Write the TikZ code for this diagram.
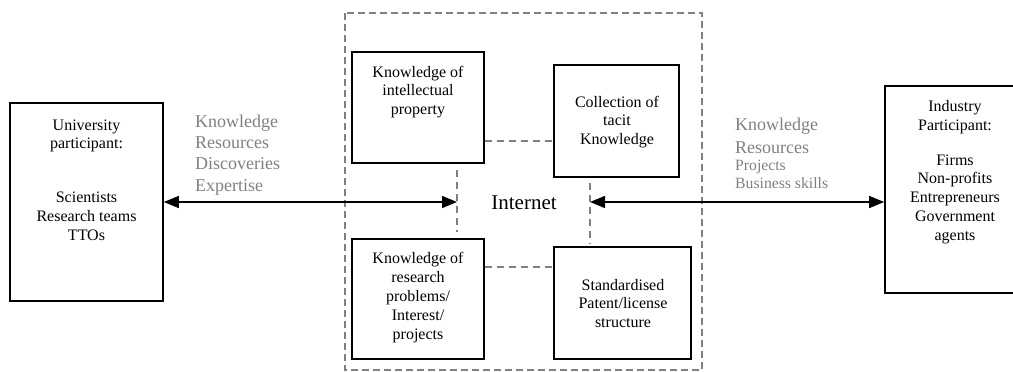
\documentclass[tikz,border=0pt]{standalone}
\usepackage{fontspec}
\setmainfont{Liberation Serif}
\usetikzlibrary{arrows.meta}

\definecolor{linkgray}{RGB}{128,128,128}
\definecolor{textgray}{RGB}{128,128,128}

\begin{document}
\begin{tikzpicture}[x=1pt,y=1pt,yscale=-1,
	pbox/.style={draw,line width=1.6pt,inner sep=0pt,fill=none},
	btext/.style={align=center,inner sep=0pt,font=\fontsize{16}{18.8}\selectfont},
	gtext/.style={align=left,inner sep=0pt,anchor=west,text=textgray},
	link/.style={draw=linkgray,line width=1.3pt,dash pattern={on 7pt off 5pt}},
	twoway/.style={line width=1.4pt,{Triangle[length=15pt,width=12pt]}-{Triangle[length=15pt,width=12pt]}}]
	\useasboundingbox (0,0) rectangle (1013,372);

	%Shape: Dashed Rectangle (internet area)
	\draw [draw=linkgray,line width=1.3pt,dash pattern={on 7pt off 4pt}] (345,13) rectangle (702,370) ;

	%Shape: Rectangle
	\node [pbox,minimum width=153pt,minimum height=198pt] (uni) at (86.5,202) {};
	\node [pbox,minimum width=145pt,minimum height=207pt] (ind) at (957.5,189.5) {};
	\node [pbox,minimum width=132pt,minimum height=111pt] (kip) at (418,107.5) {};
	\node [pbox,minimum width=125pt,minimum height=112pt] (coll) at (616.5,121) {};
	\node [pbox,minimum width=132pt,minimum height=120pt] (res) at (418,299) {};
	\node [pbox,minimum width=137pt,minimum height=112pt] (std) at (622.5,303) {};

	\coordinate (hA) at (0,141);
	\coordinate (hB) at (0,267);
	\coordinate (vL) at (457,0);
	\coordinate (vR) at (590,0);

	%Straight Lines
	\draw [link] (kip.east |- hA) -- (coll.west |- hA) ;
	\draw [link] (res.east |- hB) -- (std.west |- hB) ;
	\draw [link,shorten <=6pt,shorten >=6pt] (kip.south -| vL) -- (res.north -| vL) ;
	\draw [link,shorten <=5pt,shorten >=2pt] (coll.south -| vR) -- (std.north -| vR) ;

	%Arrows
	\draw [twoway] (uni.east) -- (vL |- uni.east) ;
	\draw [twoway] (vR |- uni.east) -- (ind.west |- uni.east) ;

	% Text Node
	\node [btext] (unitxt) at (86.5,180) {University\\participant:\\[35pt]Scientists\\Research teams\\TTOs};
	% Text Node
	\node [btext] (indtxt) at (955,172) {Industry\\Participant:\\[16pt]Firms\\Non-profits\\Entrepreneurs\\Government\\agents};
	% Text Node
	\node [btext] (kiptxt) at (418,92) {Knowledge of\\intellectual\\property};
	% Text Node
	\node [btext] (colltxt) at (617,122) {Collection of\\tacit\\Knowledge};
	% Text Node
	\node [btext] (restxt) at (418,297.5) {Knowledge of\\research\\problems/\\Interest/\\projects};
	% Text Node
	\node [btext] (stdtxt) at (623,303.5) {Standardised\\Patent/license\\structure};
	% Text Node
	\node [inner sep=0pt,font=\fontsize{21}{24}\selectfont] (net) at (524,203) {Internet};
	% Text Node
	\node [gtext,font=\fontsize{18}{21.3}\selectfont] (unires) at (195,155) {Knowledge\\Resources\\Discoveries\\Expertise};
	% Text Node
	\node [gtext,font=\fontsize{18}{23}\selectfont] (indres) at (735,135.5) {Knowledge\\Resources};
	% Text Node
	\node [gtext,font=\fontsize{15.7}{17.5}\selectfont] (indmore) at (735,174.5) {Projects\\Business skills};

\end{tikzpicture}
\end{document}
